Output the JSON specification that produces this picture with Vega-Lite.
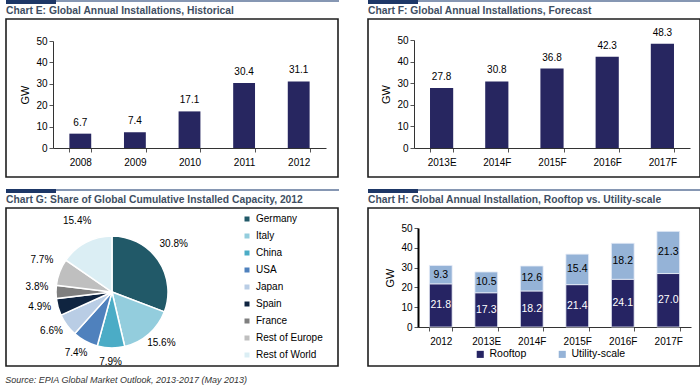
{
  "$schema": "https://vega.github.io/schema/vega-lite/v6.json",
  "padding": {"left": 5, "top": 0, "right": 0, "bottom": 0},
  "background": "white",
  "config": {
    "font": "Liberation Sans",
    "view": {"stroke": "#1e1e1e", "strokeWidth": 1.6},
    "title": {"anchor": "start", "fontSize": 10.3, "fontWeight": "bold", "color": "#3f4f63", "offset": 3},
    "axis": {"labelFontSize": 10, "labelColor": "#000", "domainColor": "#333", "tickColor": "#555", "titleFontSize": 11, "titleFontWeight": "normal", "titleColor": "#000", "grid": false, "tickSize": 4},
    "legend": {"labelFontSize": 10, "labelColor": "#000"},
    "text": {"fontSize": 10}
  },
  "title": {"text": "Source: EPIA Global Market Outlook, 2013-2017 (May 2013)", "orient": "bottom", "anchor": "start", "fontStyle": "italic", "fontWeight": "normal", "fontSize": 9, "color": "#333", "offset": 8},
  "spacing": 11,
  "resolve": {"scale": {"color": "independent"}, "legend": {"color": "independent"}},
  "vconcat": [
    {
      "spacing": 28,
      "hconcat": [
        {
          "spacing": 0,
          "vconcat": [
            {"spacing": 0, "hconcat": [
              {"width": 50, "height": 4, "data": {"values": []}, "mark": "rect", "encoding": {}, "view": {"fill": "#1d3767", "stroke": null}},
              {"width": 283, "height": 2, "data": {"values": []}, "mark": "rect", "encoding": {}, "view": {"fill": "#8697b3", "stroke": null}}
            ]},
            {
              "width": 332, "height": 158,
              "title": {"text": "Chart E: Global Annual Installations, Historical"},
              "data": {"values": [
                {"year": "2008", "gw": 6.7}, {"year": "2009", "gw": 7.4}, {"year": "2010", "gw": 17.1}, {"year": "2011", "gw": 30.4}, {"year": "2012", "gw": 31.1}
              ]},
              "encoding": {
                "x": {"field": "year", "type": "ordinal", "scale": {"range": [47, 320], "paddingInner": 0.6, "paddingOuter": 0.3}, "axis": {"title": null, "labelAngle": 0, "offset": -29, "tickBand": "extent", "labelPadding": 5}},
                "y": {"field": "gw", "type": "quantitative", "scale": {"domain": [0, 50], "range": [129, 22], "nice": false}, "axis": {"title": "GW", "offset": -47, "values": [0, 10, 20, 30, 40, 50], "titlePadding": 5}}
              },
              "layer": [
                {"mark": {"type": "bar", "color": "#272660"}},
                {"mark": {"type": "text", "baseline": "bottom", "dy": -6}, "encoding": {"text": {"field": "gw", "format": ".1f"}}}
              ]
            }
          ]
        },
        {
          "spacing": 0,
          "vconcat": [
            {"spacing": 0, "hconcat": [
              {"width": 50, "height": 4, "data": {"values": []}, "mark": "rect", "encoding": {}, "view": {"fill": "#1d3767", "stroke": null}},
              {"width": 283, "height": 2, "data": {"values": []}, "mark": "rect", "encoding": {}, "view": {"fill": "#8697b3", "stroke": null}}
            ]},
            {
              "width": 332, "height": 158,
              "title": {"text": "Chart F: Global Annual Installations, Forecast"},
              "data": {"values": [
                {"year": "2013E", "gw": 27.8}, {"year": "2014F", "gw": 30.8}, {"year": "2015F", "gw": 36.8}, {"year": "2016F", "gw": 42.3}, {"year": "2017F", "gw": 48.3}
              ]},
              "encoding": {
                "x": {"field": "year", "type": "ordinal", "scale": {"range": [46, 322], "paddingInner": 0.58, "paddingOuter": 0.29}, "axis": {"title": null, "labelAngle": 0, "offset": -29, "tickBand": "extent", "labelPadding": 5}},
                "y": {"field": "gw", "type": "quantitative", "scale": {"domain": [0, 50], "range": [129, 21], "nice": false}, "axis": {"title": "GW", "offset": -46, "values": [0, 10, 20, 30, 40, 50], "titlePadding": 5}}
              },
              "layer": [
                {"mark": {"type": "bar", "color": "#272660"}},
                {"mark": {"type": "text", "baseline": "bottom", "dy": -6}, "encoding": {"text": {"field": "gw", "format": ".1f"}}}
              ]
            }
          ]
        }
      ]
    },
    {
      "spacing": 28,
      "resolve": {"scale": {"color": "independent"}, "legend": {"color": "independent"}},
      "hconcat": [
        {
          "spacing": 0,
          "resolve": {"scale": {"color": "independent"}, "legend": {"color": "independent"}},
          "vconcat": [
            {"spacing": 0, "hconcat": [
              {"width": 50, "height": 4, "data": {"values": []}, "mark": "rect", "encoding": {}, "view": {"fill": "#1d3767", "stroke": null}},
              {"width": 283, "height": 2, "data": {"values": []}, "mark": "rect", "encoding": {}, "view": {"fill": "#8697b3", "stroke": null}}
            ]},
            {
              "width": 332, "height": 158,
              "title": {"text": "Chart G: Share of Global Cumulative Installed Capacity, 2012"},
              "data": {"values": [
                {"country": "Germany", "share": 0.308, "n": 1},
                {"country": "Italy", "share": 0.156, "n": 2},
                {"country": "China", "share": 0.079, "n": 3},
                {"country": "USA", "share": 0.074, "n": 4},
                {"country": "Japan", "share": 0.066, "n": 5},
                {"country": "Spain", "share": 0.049, "n": 6},
                {"country": "France", "share": 0.038, "n": 7},
                {"country": "Rest of Europe", "share": 0.077, "n": 8},
                {"country": "Rest of World", "share": 0.154, "n": 9}
              ]},
              "encoding": {
                "theta": {"field": "share", "type": "quantitative", "stack": true},
                "order": {"field": "n", "type": "quantitative"},
                "x": {"value": 106},
                "y": {"value": 84}
              },
              "layer": [
                {
                  "mark": {"type": "arc", "outerRadius": 56, "stroke": "white", "strokeWidth": 1.5},
                  "encoding": {
                    "color": {"field": "country", "type": "nominal", "sort": null,
                      "scale": {"domain": ["Germany", "Italy", "China", "USA", "Japan", "Spain", "France", "Rest of Europe", "Rest of World"],
                                "range": ["#215968", "#93cddd", "#4bacc6", "#4f81bd", "#b9cde5", "#0f2440", "#7f7f7f", "#bfbfbf", "#dbeef4"]},
                      "legend": {"orient": "none", "legendX": 236, "legendY": 6, "title": null, "symbolType": "square", "symbolSize": 25, "symbolStrokeWidth": 0, "rowPadding": 7, "labelFontSize": 10}}
                  }
                },
                {
                  "mark": {"type": "text", "radius": 75, "dy": -5},
                  "encoding": {"text": {"field": "share", "format": ".1%"}}
                }
              ]
            }
          ]
        },
        {
          "spacing": 0,
          "resolve": {"scale": {"color": "independent"}, "legend": {"color": "independent"}},
          "vconcat": [
            {"spacing": 0, "hconcat": [
              {"width": 50, "height": 4, "data": {"values": []}, "mark": "rect", "encoding": {}, "view": {"fill": "#1d3767", "stroke": null}},
              {"width": 283, "height": 2, "data": {"values": []}, "mark": "rect", "encoding": {}, "view": {"fill": "#8697b3", "stroke": null}}
            ]},
            {
              "width": 332, "height": 158,
              "title": {"text": "Chart H: Global Annual Installation, Rooftop vs. Utility-scale"},
              "data": {"values": [
                {"year": "2012", "type": "Rooftop", "gw": 21.8}, {"year": "2012", "type": "Utility-scale", "gw": 9.3},
                {"year": "2013E", "type": "Rooftop", "gw": 17.3}, {"year": "2013E", "type": "Utility-scale", "gw": 10.5},
                {"year": "2014F", "type": "Rooftop", "gw": 18.2}, {"year": "2014F", "type": "Utility-scale", "gw": 12.6},
                {"year": "2015F", "type": "Rooftop", "gw": 21.4}, {"year": "2015F", "type": "Utility-scale", "gw": 15.4},
                {"year": "2016F", "type": "Rooftop", "gw": 24.1}, {"year": "2016F", "type": "Utility-scale", "gw": 18.2},
                {"year": "2017F", "type": "Rooftop", "gw": 27.0}, {"year": "2017F", "type": "Utility-scale", "gw": 21.3}
              ]},
              "transform": [
                {"stack": "gw", "groupby": ["year"], "sort": [{"field": "type", "order": "ascending"}], "as": ["lo", "hi"]},
                {"calculate": "(datum.lo + datum.hi) / 2", "as": "mid"}
              ],
              "encoding": {
                "x": {"field": "year", "type": "ordinal", "scale": {"range": [50, 323], "paddingInner": 0.5, "paddingOuter": 0.25}, "axis": {"title": null, "labelAngle": 0, "offset": -39, "tickBand": "extent", "labelPadding": 5}}
              },
              "layer": [
                {
                  "mark": {"type": "bar", "stroke": "#e8eef8", "strokeWidth": 0.8},
                  "encoding": {
                    "y": {"field": "hi", "type": "quantitative", "scale": {"domain": [0, 50], "range": [119, 20], "nice": false}, "axis": {"title": "GW", "offset": -50, "values": [0, 10, 20, 30, 40, 50], "titlePadding": 5, "domainColor": "#000", "domainWidth": 2}},
                    "y2": {"field": "lo"},
                    "color": {"field": "type", "type": "nominal",
                      "scale": {"domain": ["Rooftop", "Utility-scale"], "range": ["#262463", "#95b3d7"]},
                      "legend": {"orient": "none", "legendX": 107, "legendY": 141, "direction": "horizontal", "title": null, "symbolType": "square", "symbolSize": 50, "symbolStrokeWidth": 0, "columnPadding": 30, "labelFontSize": 10.5}}
                  }
                },
                {
                  "mark": {"type": "text", "baseline": "middle", "fontSize": 10.5},
                  "encoding": {
                    "y": {"field": "mid", "type": "quantitative", "axis": {"title": "GW", "offset": -50, "values": [0, 10, 20, 30, 40, 50], "titlePadding": 5, "domainColor": "#000", "domainWidth": 2}},
                    "text": {"field": "gw", "format": ".1f"},
                    "color": {"condition": {"test": "datum.type === 'Rooftop'", "value": "white"}, "value": "black"}
                  }
                }
              ]
            }
          ]
        }
      ]
    }
  ]
}
